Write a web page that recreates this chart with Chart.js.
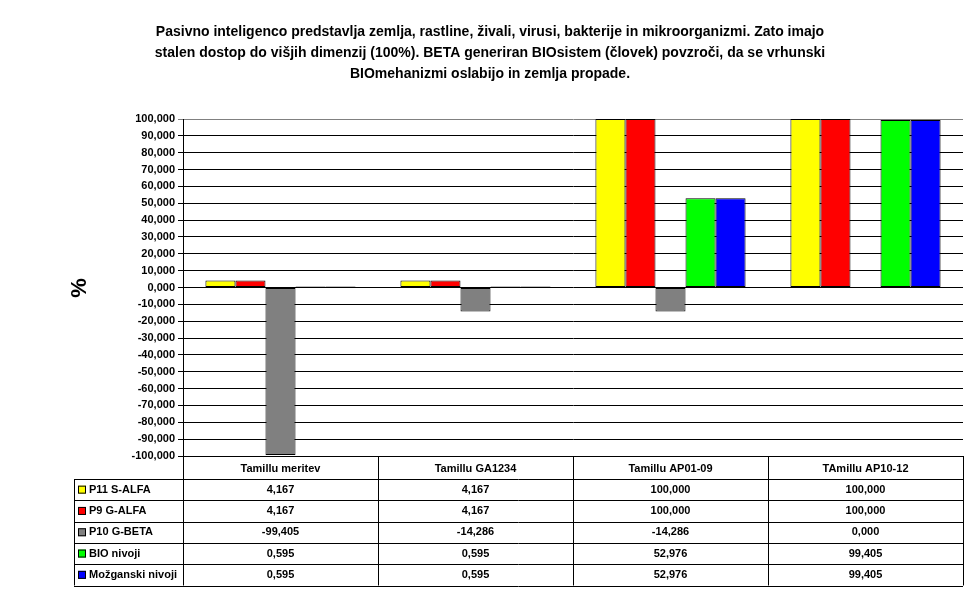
<!DOCTYPE html>
<html>
<head>
<meta charset="utf-8">
<script src="https://cdn.jsdelivr.net/npm/chart.js@4/dist/chart.umd.min.js"></script>
<style>
  body { margin: 0; background: #fff; }
  #wrap { width: 977px; height: 600px; }
</style>
</head>
<body>
<div id="wrap"><canvas id="c" width="977" height="600"></canvas></div>
<script>
const categories = ["Tamillu meritev", "Tamillu GA1234", "Tamillu AP01-09", "TAmillu AP10-12"];
const seriesNames = ["P11 S-ALFA", "P9 G-ALFA", "P10 G-BETA", "BIO nivoji", "Možganski nivoji"];
const p11 = [4.167, 4.167, 100, 100];
const p9 = [4.167, 4.167, 100, 100];
const p10 = [-99.405, -14.286, -14.286, 0];
const bio = [0.595, 0.595, 52.976, 99.405];
const mozg = [0.595, 0.595, 52.976, 99.405];
const colors = ["#ffff00", "#ff0000", "#808080", "#00ff00", "#0000ff"];
const titleLines = [
  "Pasivno inteligenco predstavlja zemlja, rastline, živali, virusi, bakterije in mikroorganizmi. Zato imajo",
  "stalen dostop do višjih dimenzij (100%). BETA generiran BIOsistem (človek) povzroči, da se vrhunski",
  "BIOmehanizmi oslabijo in zemlja propade."
];

const FONT = "Liberation Sans, Arial, sans-serif";
const fmt = v => v.toFixed(3).replace(".", ",");
const allSeries = [p11, p9, p10, bio, mozg];

// Title, axis label and data table drawn on the canvas
const extras = {
  id: "extras",
  afterDraw(chart) {
    const ctx = chart.ctx;
    const area = chart.chartArea;
    const x = chart.scales.x;
    ctx.save();
    ctx.fillStyle = "#000";
    ctx.textAlign = "center";
    ctx.textBaseline = "middle";
    ctx.font = "bold 14px " + FONT;
    titleLines.forEach((t, i) => ctx.fillText(t, 490, 32 + i * 21));

    ctx.save();
    ctx.translate(80, 288);
    ctx.rotate(-Math.PI / 2);
    ctx.font = "bold 22px " + FONT;
    ctx.fillText("%", 0, 0);
    ctx.restore();

    // table
    const top = area.bottom, headH = 23, rowH = 21.3, leftX = 74;
    const colW = (area.right - area.left) / categories.length;
    const bottom = top + headH + rowH * seriesNames.length;
    ctx.strokeStyle = "#000";
    ctx.lineWidth = 1;
    ctx.beginPath();
    for (let i = 0; i <= categories.length; i++) {
      const cx = Math.round(area.left + i * colW) + 0.5;
      ctx.moveTo(cx, top); ctx.lineTo(cx, bottom);
    }
    ctx.moveTo(leftX + 0.5, top + headH); ctx.lineTo(leftX + 0.5, bottom);
    for (let r = 0; r <= seriesNames.length; r++) {
      const y = Math.round(top + headH + r * rowH) + 0.5;
      ctx.moveTo(leftX, y); ctx.lineTo(area.right, y);
    }
    ctx.stroke();

    ctx.font = "bold 11px " + FONT;
    categories.forEach((c, i) => ctx.fillText(c, x.getPixelForValue(i), top + headH / 2 + 1));
    seriesNames.forEach((n, r) => {
      const cy = top + headH + r * rowH + rowH / 2;
      ctx.fillStyle = colors[r];
      ctx.fillRect(leftX + 4, cy - 4, 8, 8);
      ctx.strokeRect(leftX + 4.5, cy - 3.5, 7, 7);
      ctx.fillStyle = "#000";
      ctx.textAlign = "left";
      ctx.fillText(n, leftX + 15, cy);
      ctx.textAlign = "center";
      allSeries[r].forEach((v, i) => ctx.fillText(fmt(v), x.getPixelForValue(i), cy));
    });
    ctx.restore();
  }
};

new Chart(document.getElementById("c").getContext("2d"), {
  type: "bar",
  data: {
    labels: categories,
    datasets: seriesNames.map((n, i) => ({
      label: n,
      data: allSeries[i],
      backgroundColor: colors[i],
      borderColor: "#000",
      borderWidth: 1,
      borderSkipped: false,
      categoryPercentage: 0.77,
      barPercentage: 1
    }))
  },
  options: {
    responsive: false,
    animation: false,
    layout: { padding: { top: 119, bottom: 144, right: 14, left: 0 } },
    plugins: { legend: { display: false }, title: { display: false }, tooltip: { enabled: false } },
    scales: {
      x: { display: false },
      y: {
        min: -100, max: 100,
        afterFit: s => { s.width = 183; },
        ticks: {
          stepSize: 10,
          color: "#000",
          font: { family: FONT, size: 11, weight: "bold" },
          callback: v => fmt(v),
          padding: 3
        },
        grid: { color: ctx => ctx.tick && ctx.tick.value === 100 ? "#808080" : "#000", tickLength: 5 },
        border: { color: "#000" }
      }
    }
  },
  plugins: [extras]
});
</script>
</body>
</html>
